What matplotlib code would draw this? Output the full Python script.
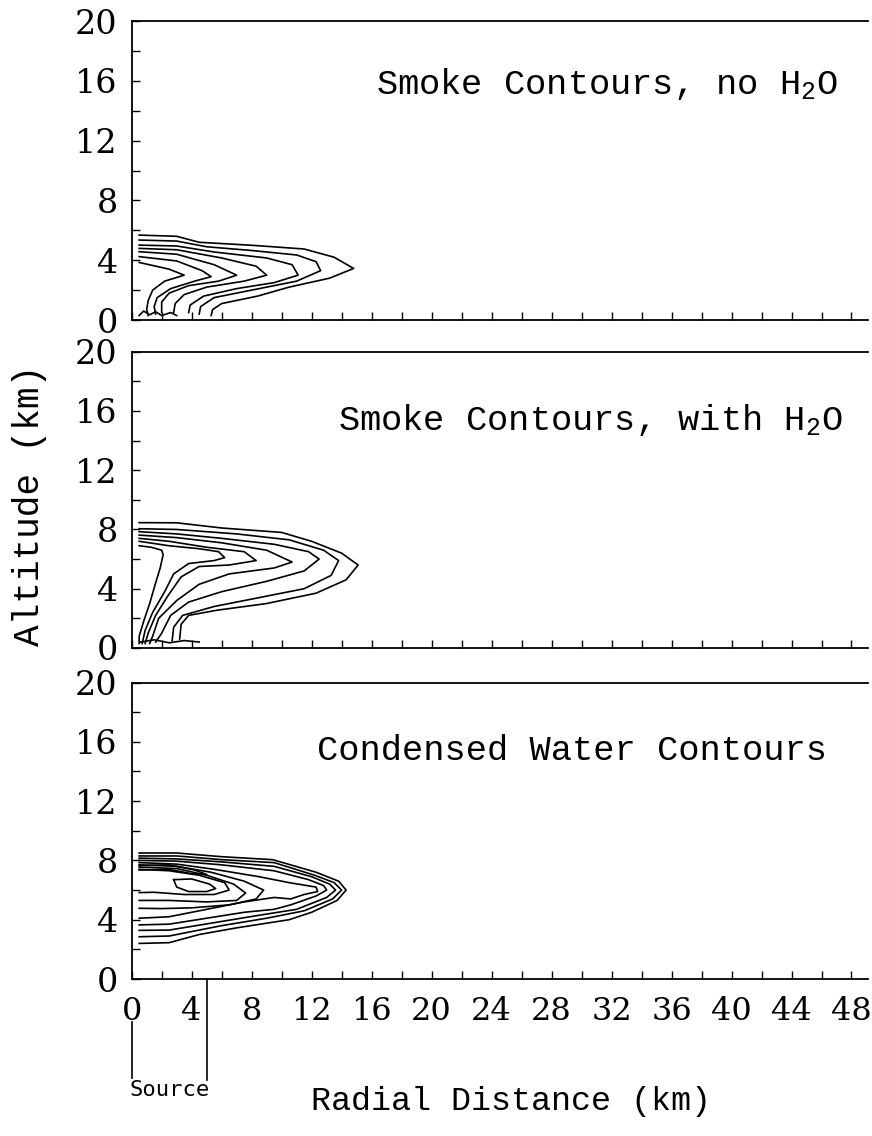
import numpy as np
import matplotlib
matplotlib.use("Agg")
import matplotlib.pyplot as plt

plt.rcParams['mathtext.fontset'] = 'custom'
plt.rcParams['mathtext.rm'] = 'Liberation Mono'
plt.rcParams['mathtext.it'] = 'Liberation Mono'

# contour lines, (radial km, altitude km)
smoke_dry = [
    [(0.5, 5.68), (3.0, 5.6), (4.5, 5.2), (8, 5.0), (11.5, 4.75), (13.5, 4.2), (14.8, 3.45),
     (13.2, 2.8), (10.5, 2.2), (8.4, 1.6), (6.0, 1.1), (5.4, 0.7), (5.3, 0.3)],
    [(0.5, 5.35), (3, 5.28), (5, 4.9), (8, 4.65), (11, 4.35), (12.3, 3.9), (12.6, 3.3),
     (11, 2.6), (8, 2.0), (5.5, 1.5), (4.6, 0.9), (4.5, 0.4)],
    [(0.5, 5.01), (3, 4.95), (5.5, 4.55), (9, 4.15), (10.7, 3.7), (11.1, 3.0),
     (9.5, 2.5), (7, 2.1), (4.8, 1.6), (3.9, 1.0), (3.8, 0.5)],
    [(0.5, 4.79), (3, 4.7), (6, 4.15), (8.3, 3.6), (9.0, 3.0),
     (7.5, 2.6), (5, 2.2), (3.5, 1.7), (2.9, 1.1), (2.8, 0.5)],
    [(0.5, 4.57), (3, 4.4), (5.5, 3.7), (7.0, 3.0),
     (5.8, 2.6), (3.8, 2.3), (2.5, 1.8), (2.0, 1.2), (2.0, 0.5)],
    [(0.5, 4.24), (3, 3.95), (4.7, 3.3), (5.3, 2.9),
     (4.2, 2.6), (2.6, 2.1), (1.7, 1.5), (1.5, 0.9), (1.6, 0.4)],
    [(0.5, 3.85), (2.5, 3.4), (3.5, 3.0),
     (2.2, 2.6), (1.4, 2.0), (1.1, 1.3), (1.0, 0.7), (1.1, 0.3)],
    [(0.5, 0.3), (0.8, 0.6), (1.2, 0.35), (1.6, 0.55), (2.0, 0.3), (2.6, 0.5), (3.0, 0.3)],
]

smoke_wet = [
    [(0.5, 8.46), (3, 8.45), (6, 8.1), (10, 7.8), (12, 7.2), (14, 6.4), (15.1, 5.6),
     (14.3, 4.6), (12.3, 3.7), (9, 3.0), (5.7, 2.55), (3.8, 2.2), (3.3, 1.6), (3.2, 0.6)],
    [(0.5, 8.05), (3, 8.0), (7, 7.7), (10.5, 7.3), (12.8, 6.6), (13.8, 5.9),
     (13.3, 4.9), (11.5, 4.0), (8.5, 3.4), (5.5, 2.8), (3.4, 2.2), (2.8, 1.4), (2.7, 0.5)],
    [(0.5, 7.85), (3, 7.7), (6, 7.4), (9.5, 7.0), (11.8, 6.5), (12.5, 6.0),
     (11.5, 5.2), (9, 4.5), (6, 3.8), (3.8, 3.1), (2.6, 2.2), (2.0, 1.0), (1.6, 0.4)],
    [(0.5, 7.62), (3, 7.45), (6, 7.1), (9, 6.6), (10.7, 5.8),
     (9.5, 5.4), (6.5, 5.0), (4.5, 4.3), (3, 3.2), (1.8, 2.0), (1.4, 0.8), (1.2, 0.3)],
    [(0.5, 7.4), (2.5, 7.2), (5, 6.8), (7.5, 6.5), (8.3, 5.9),
     (6.5, 5.6), (4.5, 5.5), (3.3, 4.8), (2.4, 3.5), (1.6, 2.2), (1.1, 1.0), (0.9, 0.3)],
    [(0.5, 7.2), (2.5, 6.9), (4.5, 6.7), (5.8, 6.5), (6.2, 6.1),
     (5.5, 5.9), (3.8, 5.7), (2.8, 5.0), (2.2, 3.8), (1.4, 2.4), (0.9, 1.2), (0.7, 0.3)],
    [(0.5, 6.9), (1.3, 6.8), (2.0, 6.6), (2.1, 6.3),
     (1.9, 5.4), (1.6, 4.4), (1.2, 3.0), (0.8, 1.8), (0.5, 0.8), (0.5, 0.3)],
    [(0.6, 0.4), (1.5, 0.55), (2.5, 0.35), (3.5, 0.5), (4.5, 0.4)],
]

water = [
    [(0.5, 8.5), (3, 8.5), (6, 8.25), (9.4, 8.05), (12.3, 7.2), (13.8, 6.6), (14.3, 6.0),
     (13.7, 5.3), (12, 4.5), (10.5, 4.0), (7, 3.45), (4.5, 3.0), (2.5, 2.45), (0.5, 2.4)],
    [(0.5, 8.3), (3, 8.3), (6, 8.05), (9.5, 7.85), (12.2, 7.0), (13.5, 6.5), (14.0, 6.0),
     (13.4, 5.4), (11.5, 4.6), (9, 4.1), (6, 3.6), (2.5, 2.9), (0.5, 2.85)],
    [(0.5, 8.15), (3, 8.1), (6, 7.9), (9.5, 7.6), (12, 6.9), (13.2, 6.4), (13.6, 6.0),
     (13.0, 5.5), (11.0, 4.7), (8.5, 4.3), (5.5, 3.8), (2.5, 3.3), (0.5, 3.28)],
    [(0.5, 8.0), (3, 7.95), (6, 7.7), (9.5, 7.3), (11.8, 6.7), (12.8, 6.3), (13.0, 6.0),
     (12.3, 5.6), (10.6, 5.0), (9.5, 4.7), (7.5, 4.5), (5, 4.1), (2.5, 3.7), (0.5, 3.65)],
    [(0.5, 7.85), (3, 7.75), (5.5, 7.4), (8.5, 6.9), (10.5, 6.5), (12.3, 6.2), (12.4, 5.9),
     (11.5, 5.7), (10.6, 5.4), (9.5, 5.5), (7.5, 5.2), (5, 4.7), (2.5, 4.2), (0.5, 4.1)],
    [(0.5, 7.7), (3, 7.6), (5.3, 7.2), (7.5, 6.6), (8.8, 6.0),
     (8.3, 5.4), (6.5, 5.0), (4, 4.8), (2, 4.75), (0.5, 4.77)],
    [(0.5, 7.55), (3, 7.45), (5, 7.0), (6.8, 6.4), (7.6, 5.8),
     (7.0, 5.3), (5, 5.2), (2.5, 5.3), (0.5, 5.3)],
    [(0.5, 7.4), (2.5, 7.3), (4.5, 7.0), (6.2, 6.5), (6.5, 6.0),
     (5.5, 5.7), (3.5, 5.7), (1.5, 5.85), (0.5, 5.83)],
    [(2.8, 6.7), (4, 6.75), (5.2, 6.4), (5.6, 6.1), (5.0, 5.9), (3.8, 5.9), (3.0, 6.2), (2.8, 6.7)],
    [(0.5, 7.65), (2.5, 7.7), (4.2, 7.35), (5.0, 7.05), (4.0, 7.1), (2.5, 7.4), (0.5, 7.35)],
]

titles = ["Smoke Contours, no H$_2$O", "Smoke Contours, with H$_2$O", "Condensed Water Contours"]
title_x = [0.959, 0.966, 0.944]
title_y = [0.79, 0.77, 0.77]
panels = [smoke_dry, smoke_wet, water]

x_ticks = np.arange(0, 49, 4)
y_ticks = np.arange(0, 21, 4)
source_edges = [0, 5]

mono = 'Liberation Mono'
serif = 'DejaVu Serif'

fig = plt.figure(figsize=(8.72, 11.36), dpi=100)
rects = [
    [0.151, 0.7183, 0.8444, 0.2632],
    [0.151, 0.4296, 0.8444, 0.2608],
    [0.151, 0.1382, 0.8444, 0.2610],
]

axes = []
for i, rect in enumerate(rects):
    ax = fig.add_axes(rect)
    for line in panels[i]:
        pts = np.array(line)
        ax.plot(pts[:, 0], pts[:, 1], color='black', lw=1.2)
    ax.set_xlim(0, 49.1)
    ax.set_ylim(0, 20)
    ax.spines['right'].set_visible(False)
    for s in ['left', 'top', 'bottom']:
        ax.spines[s].set_linewidth(1.3)
    ax.set_xticks(x_ticks)
    ax.set_xticks(np.arange(0, 49, 2), minor=True)
    ax.set_yticks(y_ticks)
    ax.set_yticks(np.arange(0, 21, 2), minor=True)
    ax.tick_params(which='both', direction='in', length=6, width=1.0,
                   top=False, right=False)
    ax.tick_params(axis='y', pad=10)
    ax.tick_params(axis='x', pad=12)
    ax.set_yticklabels([str(v) for v in y_ticks], fontsize=24, family=serif)
    if i < 2:
        ax.set_xticklabels([])
    else:
        ax.set_xticklabels([str(v) for v in x_ticks], fontsize=23, family=serif)
    ax.text(title_x[i], title_y[i], titles[i], transform=ax.transAxes, ha='right', va='center',
            fontsize=25.5, family=mono)
    axes.append(ax)

ax3 = axes[2]
ax3.plot([source_edges[0]] * 2, [-2.9, -6.7], color='black', lw=1.2, clip_on=False)
ax3.plot([source_edges[1]] * 2, [0, -6.8], color='black', lw=1.2, clip_on=False)
ax3.text(np.mean(source_edges), -7.5, "Source", ha='center', va='center',
         fontsize=16, family='DejaVu Sans Mono')

fig.text(0.586, 0.0165, "Radial Distance (km)", ha='center', va='bottom',
         fontsize=24, family=mono)
fig.text(0.034, 0.555, "Altitude (km)", ha='center', va='center', rotation=90,
         fontsize=26, family=mono)

fig.savefig("out.png", dpi=100)
